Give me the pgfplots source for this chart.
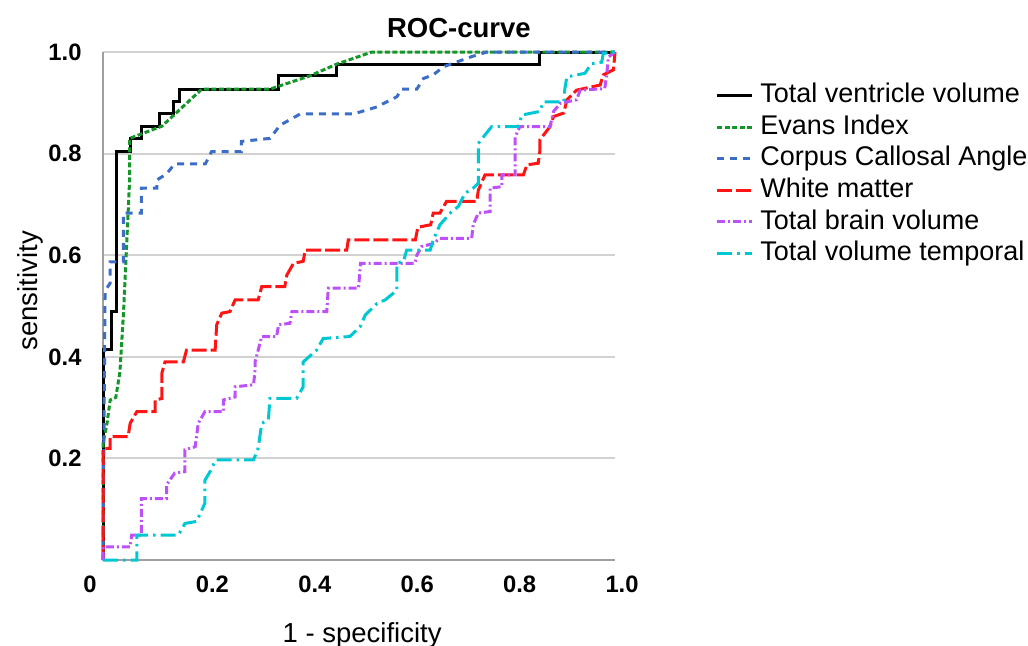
\documentclass[border=0pt]{standalone}
\usepackage{fontspec}
\setmainfont{Liberation Sans}
\usepackage{pgfplots}
\pgfplotsset{compat=1.18}

\definecolor{evgreen}{RGB}{20,150,40}
\definecolor{ccblue}{RGB}{60,110,200}
\definecolor{wmred}{RGB}{255,20,20}
\definecolor{tbpurple}{RGB}{190,80,250}
\definecolor{tvcyan}{RGB}{0,200,210}

\begin{document}
\begin{tikzpicture}
\begin{axis}[
  scale only axis, width=204.8pt, height=203.2pt,
  xmin=0, xmax=1, ymin=0, ymax=1,
  clip=false,
  axis lines*=left,
  axis line style={gray!75, line width=0.8pt},
  xtick={0.2,0.4,0.6,0.8,1.0}, xticklabels={0.2,0.4,0.6,0.8,1.0},
  ytick={0.2,0.4,0.6,0.8,1.0}, yticklabels={0.2,0.4,0.6,0.8,1.0},
  extra x ticks={0}, extra x tick labels={0},
  extra x tick style={xticklabel style={xshift=-8pt}},
  major tick length=0pt,
  ymajorgrids, grid style={gray!35, line width=0.8pt},
  tick label style={font=\fontsize{9.5}{11}\selectfont\bfseries},
  x tick label style={inner sep=0pt, anchor=north, yshift=-6pt, xshift=2.8pt},
  y tick label style={inner sep=0pt, anchor=east, xshift=-8.4pt},
  title={ROC-curve},
  title style={font=\fontsize{11}{13}\selectfont\bfseries,
    at={(axis description cs:0.695,1.0295)}, anchor=base, yshift=-6pt},
  xlabel={1 - specificity},
  xlabel style={font=\fontsize{11}{13}\selectfont,
    at={(axis description cs:0.506,-0.163)}, anchor=base},
  ylabel={sensitivity},
  ylabel style={font=\fontsize{11}{13}\selectfont,
    at={(axis description cs:-0.1426,0.53)}, anchor=center},
  legend style={at={(axis description cs:1.196,0.94)}, anchor=north west,
    draw=none, fill=none, inner sep=0pt,
    font=\fontsize{10.8}{13}\selectfont, row sep=2.4pt,
    nodes={inner sep=0pt, text height=8pt, text depth=2.2pt},
    /tikz/every odd column/.append style={column sep=2.6pt}},
  legend cell align=left,
  legend image code/.code={\draw[#1] (0pt,0pt) -- (14pt,0pt);},
  every axis plot/.append style={line width=1.2pt},
]
% Total ventricle volume
\addplot[black] coordinates {
 (0,0) (0,0.415) (0.016,0.415) (0.016,0.49) (0.027,0.49) (0.027,0.805)
 (0.053,0.805) (0.053,0.83) (0.075,0.83) (0.075,0.853) (0.111,0.853)
 (0.111,0.878) (0.137,0.878) (0.137,0.903) (0.150,0.903) (0.150,0.927)
 (0.342,0.927) (0.342,0.953) (0.456,0.953) (0.456,0.976) (0.853,0.976)
 (0.853,1) (1,1)};
\addlegendentry{Total ventricle volume}
% Evans Index
\addplot[evgreen, dash pattern=on 2pt off 1pt] coordinates {
 (0,0) (0,0.23) (0.008,0.27) (0.014,0.315) (0.025,0.32) (0.033,0.37)
 (0.04,0.486) (0.046,0.617) (0.049,0.683) (0.052,0.75) (0.052,0.83)
 (0.115,0.854) (0.193,0.927) (0.326,0.927) (0.404,0.953) (0.456,0.976)
 (0.525,1) (1,1)};
\addlegendentry{Evans Index}
% Corpus Callosal Angle
\addplot[ccblue, dash pattern=on 2.8pt off 2.4pt] coordinates {
 (0,0) (0.004,0.53) (0.014,0.545) (0.014,0.587) (0.027,0.587) (0.04,0.587)
 (0.04,0.683) (0.075,0.683) (0.075,0.732) (0.105,0.732) (0.105,0.748)
 (0.124,0.76) (0.14,0.78) (0.2,0.78) (0.212,0.804) (0.27,0.804)
 (0.27,0.824) (0.326,0.83) (0.346,0.856) (0.385,0.878) (0.489,0.878)
 (0.535,0.892) (0.574,0.912) (0.583,0.927) (0.613,0.927) (0.626,0.948)
 (0.645,0.955) (0.665,0.971) (0.72,0.991) (0.75,1) (1,1)};
\addlegendentry{Corpus Callosal Angle}
% White matter
\addplot[wmred, dash pattern=on 6pt off 1.6pt] coordinates {
 (0,0) (0,0.22) (0.014,0.22) (0.014,0.243) (0.049,0.243) (0.053,0.269)
 (0.066,0.292) (0.102,0.292) (0.102,0.315) (0.115,0.318) (0.115,0.368)
 (0.121,0.39) (0.157,0.39) (0.163,0.413) (0.219,0.413) (0.222,0.463)
 (0.232,0.486) (0.248,0.489) (0.258,0.512) (0.303,0.512) (0.31,0.538)
 (0.355,0.538) (0.359,0.561) (0.372,0.584) (0.391,0.588) (0.395,0.61)
 (0.476,0.61) (0.479,0.63) (0.61,0.63) (0.615,0.655) (0.64,0.66)
 (0.645,0.683) (0.658,0.683) (0.671,0.706) (0.73,0.706) (0.733,0.728)
 (0.746,0.758) (0.821,0.758) (0.828,0.778) (0.85,0.781) (0.853,0.804)
 (0.853,0.827) (0.873,0.853) (0.88,0.873) (0.9,0.88) (0.906,0.906)
 (0.925,0.925) (0.971,0.935) (0.977,0.955) (0.997,0.965) (1,1)};
\addlegendentry{White matter}
% Total brain volume
\addplot[tbpurple, dash pattern=on 3.2pt off 1.2pt on 0.8pt off 1.2pt] coordinates {
 (0,0) (0,0.026) (0.053,0.026) (0.056,0.049) (0.075,0.049) (0.075,0.121)
 (0.124,0.121) (0.124,0.148) (0.14,0.171) (0.16,0.174) (0.16,0.217)
 (0.18,0.223) (0.186,0.269) (0.199,0.292) (0.235,0.292) (0.235,0.315)
 (0.258,0.321) (0.258,0.341) (0.294,0.345) (0.297,0.374) (0.297,0.39)
 (0.31,0.44) (0.339,0.44) (0.343,0.463) (0.365,0.466) (0.369,0.489)
 (0.437,0.489) (0.44,0.535) (0.499,0.535) (0.503,0.584) (0.609,0.584)
 (0.613,0.6) (0.622,0.617) (0.645,0.623) (0.658,0.633) (0.72,0.633)
 (0.723,0.66) (0.733,0.683) (0.756,0.686) (0.756,0.732) (0.779,0.735)
 (0.779,0.758) (0.805,0.758) (0.805,0.833) (0.814,0.853) (0.873,0.853)
 (0.88,0.883) (0.893,0.899) (0.925,0.906) (0.932,0.925) (0.98,0.928)
 (0.984,0.958) (0.987,0.99) (1,1)};
\addlegendentry{Total brain volume}
% Total volume temporal
\addplot[tvcyan, dash pattern=on 6pt off 2pt on 1pt off 2pt] coordinates {
 (0,0) (0.066,0) (0.066,0.049) (0.147,0.049) (0.16,0.072) (0.183,0.076)
 (0.199,0.112) (0.199,0.157) (0.209,0.174) (0.22,0.197) (0.294,0.197)
 (0.303,0.22) (0.31,0.269) (0.323,0.276) (0.326,0.318) (0.378,0.318)
 (0.391,0.341) (0.391,0.39) (0.417,0.413) (0.43,0.436) (0.482,0.44)
 (0.502,0.459) (0.512,0.482) (0.535,0.505) (0.551,0.512) (0.574,0.531)
 (0.574,0.584) (0.587,0.588) (0.593,0.61) (0.639,0.61) (0.645,0.63)
 (0.658,0.66) (0.681,0.686) (0.694,0.696) (0.707,0.722) (0.723,0.732)
 (0.733,0.742) (0.733,0.82) (0.743,0.833) (0.759,0.853) (0.811,0.853)
 (0.818,0.876) (0.853,0.883) (0.86,0.902) (0.9,0.902) (0.902,0.928)
 (0.906,0.951) (0.941,0.958) (0.954,0.977) (0.974,0.98) (0.977,0.997)
 (1,1)};
\addlegendentry{Total volume temporal}
% frame of the whole reference picture
\coordinate (frameSW) at (rel axis cs:-0.2012,-0.1673);
\coordinate (frameNE) at (rel axis cs:1.8066,1.1024);
\end{axis}
\pgfresetboundingbox
\path[use as bounding box] (frameSW) rectangle (frameNE);
\end{tikzpicture}
\end{document}
